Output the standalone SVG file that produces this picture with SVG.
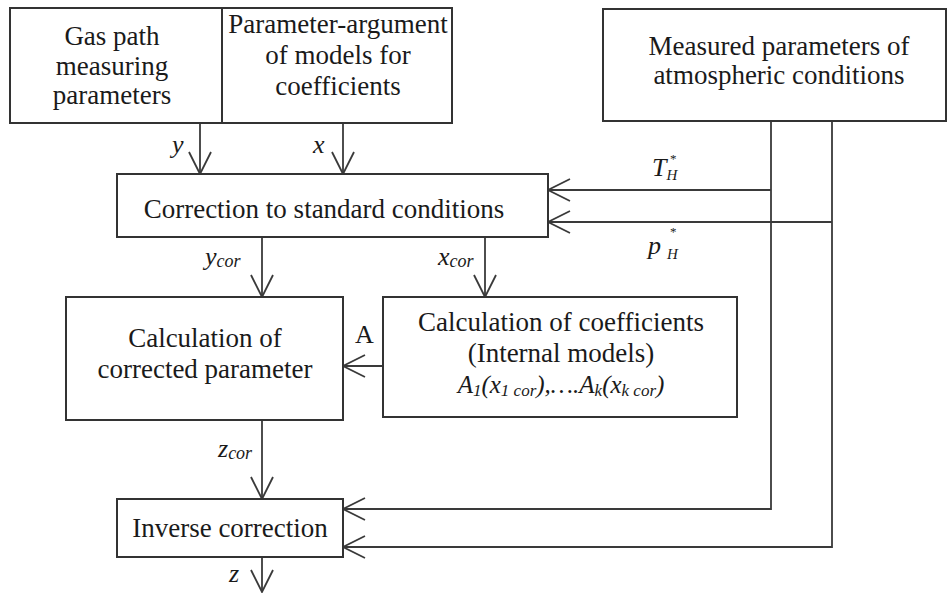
<svg xmlns="http://www.w3.org/2000/svg" width="948" height="593" viewBox="0 0 948 593">
<style>
.box{fill:#fff;stroke:#333;stroke-width:2}
.ln{fill:none;stroke:#3a3a3a;stroke-width:1.8}
text{font-family:"Liberation Serif","Times New Roman",serif;fill:#1a1a1a}
.t{font-size:27px;text-anchor:middle}
.it{font-style:italic}
</style>
<defs>
<marker id="ah" viewBox="0 0 24 24" markerWidth="24" markerHeight="24" markerUnits="userSpaceOnUse" refX="22" refY="11" orient="auto" overflow="visible">
<path d="M0,0 L22,11 L0,22" fill="none" stroke="#3a3a3a" stroke-width="1.8"/>
</marker>
</defs>
<rect width="948" height="593" fill="#fff"/>
<g id="connectors">
<path class="ln" d="M200,123 V174" marker-end="url(#ah)"/>
<path class="ln" d="M343,123 V174" marker-end="url(#ah)"/>
<path class="ln" d="M771,121 V509 H343" marker-end="url(#ah)"/>
<path class="ln" d="M771,190 H548" marker-end="url(#ah)"/>
<path class="ln" d="M832,121 V547 H343" marker-end="url(#ah)"/>
<path class="ln" d="M832,222 H548" marker-end="url(#ah)"/>
<path class="ln" d="M262,237 V297" marker-end="url(#ah)"/>
<path class="ln" d="M485,237 V297" marker-end="url(#ah)"/>
<path class="ln" d="M383,366 H343" marker-end="url(#ah)"/>
<path class="ln" d="M262,420 V499" marker-end="url(#ah)"/>
<path class="ln" d="M262,557 V592" marker-end="url(#ah)"/>
<text class="it" x="172" y="153" font-size="26">y</text>
<text class="it" x="313" y="153" font-size="26">x</text>
<text class="it" x="652" y="176" font-size="26">T<tspan font-size="15" dy="4">H</tspan></text>
<text x="670" y="163" font-size="13">*</text>
<text class="it" x="648" y="254" font-size="26">p<tspan font-size="15" dx="6" dy="5">H</tspan></text>
<text x="670" y="236" font-size="13">*</text>
<text class="it" x="205" y="265" font-size="26">y<tspan font-size="18" dy="2">cor</tspan></text>
<text class="it" x="438" y="265" font-size="26">x<tspan font-size="18" dy="2">cor</tspan></text>
<text x="355" y="343" font-size="26">A</text>
<text class="it" x="218" y="457" font-size="26">z<tspan font-size="18" dy="2">cor</tspan></text>
<text class="it" x="229" y="582" font-size="26">z</text>
</g>
<g id="inputs">
<rect class="box" x="10" y="8" width="442" height="115"/>
<line x1="222" y1="8" x2="222" y2="123" stroke="#333" stroke-width="2"/>
<text class="t" x="112" y="45">Gas path</text>
<text class="t" x="112" y="75">measuring</text>
<text class="t" x="112" y="104">parameters</text>
<text class="t" x="338" y="33">Parameter-argument</text>
<text class="t" x="338" y="64">of models for</text>
<text class="t" x="338" y="95">coefficients</text>
</g>
<g id="atmos">
<rect class="box" x="603" y="9" width="343" height="112"/>
<text class="t" x="779" y="55">Measured parameters of</text>
<text class="t" x="779" y="84">atmospheric conditions</text>
</g>
<g id="correction">
<rect class="box" x="117" y="174" width="431" height="63"/>
<text class="t" x="324" y="218">Correction to standard conditions</text>
</g>
<g id="corrected">
<rect class="box" x="66" y="297" width="277" height="123"/>
<text class="t" x="205" y="347">Calculation of</text>
<text class="t" x="205" y="378">corrected parameter</text>
</g>
<g id="coefficients">
<rect class="box" x="383" y="297" width="354" height="120"/>
<text class="t" x="561" y="331">Calculation of coefficients</text>
<text class="t" x="561" y="362">(Internal models)</text>
<text class="it" x="561" y="393" font-size="25" text-anchor="middle">A<tspan font-size="17" dy="3">1</tspan><tspan dy="-3">(x</tspan><tspan font-size="17" dy="3">1 cor</tspan><tspan dy="-3">),….A</tspan><tspan font-size="17" dy="3">k</tspan><tspan dy="-3">(x</tspan><tspan font-size="17" dy="3">k cor</tspan><tspan dy="-3">)</tspan></text>
</g>
<g id="inverse">
<rect class="box" x="117" y="499" width="226" height="58"/>
<text class="t" x="230" y="537">Inverse correction</text>
</g>
</svg>
